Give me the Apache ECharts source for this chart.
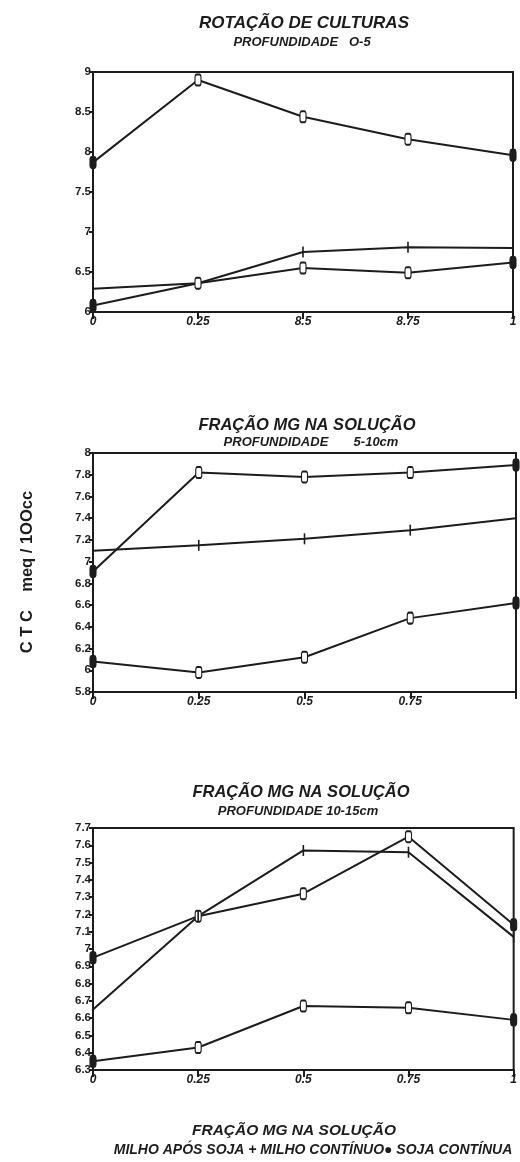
<!DOCTYPE html>
<html>
<head>
<meta charset="utf-8">
<script src="https://cdn.jsdelivr.net/npm/echarts@6/dist/echarts.min.js"></script>
<style>html,body{margin:0;padding:0;background:#fff;}#c{width:520px;height:1162px;}</style>
</head>
<body>
<div id="c"></div>
<script>
// ---- data ----
var xValues = [0, 0.25, 0.5, 0.75, 1];
var xLabels1 = ['0', '0.25', '8.5', '8.75', '1'];
var xLabels2 = ['0', '0.25', '0.5', '0.75', ''];
var xLabels3 = ['0', '0.25', '0.5', '0.75', '1'];
var yLabels1 = ['6', '6.5', '7', '7.5', '8', '8.5', '9'];
var yLabels2 = ['5.8', '6', '6.2', '6.4', '6.6', '6.8', '7', '7.2', '7.4', '7.6', '7.8', '8'];
var yLabels3 = ['6.3', '6.4', '6.5', '6.6', '6.7', '6.8', '6.9', '7', '7.1', '7.2', '7.3', '7.4', '7.5', '7.6', '7.7'];

var p1A = [7.87, 8.90, 8.44, 8.16, 7.96];
var p1B = [6.29, 6.36, 6.75, 6.81, 6.80];
var p1C = [6.08, 6.36, 6.55, 6.49, 6.62];

var p2A = [6.91, 7.82, 7.78, 7.82, 7.89];
var p2B = [7.10, 7.15, 7.21, 7.29, 7.40];
var p2C = [6.08, 5.98, 6.12, 6.48, 6.62];

var p3A = [6.95, 7.19, 7.32, 7.65, 7.14];
var p3B = [6.65, 7.19, 7.57, 7.56, 7.07];
var p3C = [6.35, 6.43, 6.67, 6.66, 6.59];

var titles = [
  ['ROTAÇÃO DE CULTURAS', 'PROFUNDIDADE   O-5'],
  ['FRAÇÃO MG NA SOLUÇÃO', 'PROFUNDIDADE       5-10cm'],
  ['FRAÇÃO MG NA SOLUÇÃO', 'PROFUNDIDADE 10-15cm']
];
var yAxisName = 'C T C    meq / 1OOcc';
var footer1 = 'FRAÇÃO MG NA SOLUÇÃO';
var footer2 = 'MILHO APÓS SOJA + MILHO CONTÍNUO● SOJA CONTÍNUA';

// ---- build ----
var INK = '#1c1c1c';
var FONT = '"Liberation Sans", Arial, sans-serif';

var grids = [
  {left: 93, top: 72, width: 420, height: 240},
  {left: 93, top: 453, width: 423, height: 239},
  {left: 93, top: 828, width: 423, height: 242}
];
var yCfg = [
  {min: 6, max: 9, interval: 0.5, labels: yLabels1},
  {min: 5.8, max: 8, interval: 0.2, labels: yLabels2},
  {min: 6.3, max: 7.7, interval: 0.1, labels: yLabels3}
];
var xLabelSets = [xLabels1, xLabels2, xLabels3];

function pairs(ys) { return xValues.map(function (x, i) { return [x, ys[i]]; }); }

function hollowSeries(ys, gi) {
  var data = pairs(ys).map(function (p, i) {
    var filled = (i === 0 || i === ys.length - 1);
    return {value: p, itemStyle: {color: filled ? INK : '#fff', borderColor: INK, borderWidth: 1.5}};
  });
  return {
    type: 'line', xAxisIndex: gi, yAxisIndex: gi, data: data,
    symbol: 'roundRect', symbolSize: [6, 11], showAllSymbol: true,
    lineStyle: {color: INK, width: 2}, itemStyle: {color: '#fff', borderColor: INK, borderWidth: 1.5},
    animation: false, z: 3
  };
}
function crossSeries(ys, gi) {
  return {
    type: 'line', xAxisIndex: gi, yAxisIndex: gi, data: pairs(ys),
    symbol: 'rect', symbolSize: [1.6, 11], showAllSymbol: true,
    lineStyle: {color: INK, width: 2}, itemStyle: {color: INK},
    animation: false, z: 3
  };
}

var series = [
  hollowSeries(p1A, 0), crossSeries(p1B, 0), hollowSeries(p1C, 0),
  hollowSeries(p2A, 1), crossSeries(p2B, 1), hollowSeries(p2C, 1),
  hollowSeries(p3A, 2), crossSeries(p3B, 2), hollowSeries(p3C, 2)
];

var xAxes = [], yAxes = [];
grids.forEach(function (g, gi) {
  g.show = true; g.borderColor = INK; g.borderWidth = 2; g.backgroundColor = 'transparent';
  xAxes.push({
    type: 'value', gridIndex: gi, min: 0, max: 1, interval: 0.25,
    axisLine: {show: true, onZero: false, lineStyle: {color: INK, width: 2}},
    axisTick: {show: true, inside: false, length: 7, lineStyle: {color: INK, width: 2}},
    splitLine: {show: false},
    axisLabel: {
      show: true, margin: 4, color: INK, fontFamily: FONT, fontWeight: 'bold', fontStyle: 'italic', fontSize: 12,
      showMinLabel: true, showMaxLabel: true,
      formatter: (function (labels) { return function (v) { return labels[Math.round(v / 0.25)]; }; })(xLabelSets[gi])
    }
  });
  var yc = yCfg[gi];
  yAxes.push({
    type: 'value', gridIndex: gi, min: yc.min, max: yc.max, interval: yc.interval,
    axisLine: {show: true, onZero: false, lineStyle: {color: INK, width: 2}},
    axisTick: {show: true, inside: false, length: 4, lineStyle: {color: INK, width: 2}},
    splitLine: {show: false},
    axisLabel: {
      show: true, margin: 2, color: INK, fontFamily: FONT, fontWeight: 'bold', fontSize: 11.5,
      showMinLabel: true, showMaxLabel: true,
      formatter: (function (c) { return function (v) { return c.labels[Math.round((v - c.min) / c.interval)]; }; })(yc)
    }
  });
});

var titleY = [[23, 42], [425, 442], [792, 811]];
var titleX = [304, 307, 301];
var subX = [302, 311, 298];
var titleSize = [17, 16.5, 16.5];
var graphics = [];
titles.forEach(function (t, i) {
  graphics.push({type: 'text', x: titleX[i], y: titleY[i][0], style: {
    text: t[0], x: 0, y: 0, align: 'center', verticalAlign: 'middle', fill: INK, fontFamily: FONT, fontWeight: 'bold', fontStyle: 'italic', fontSize: titleSize[i]
  }});
  graphics.push({type: 'text', x: subX[i], y: titleY[i][1], style: {
    text: t[1], x: 0, y: 0, align: 'center', verticalAlign: 'middle', fill: INK, fontFamily: FONT, fontWeight: 'bold', fontStyle: 'italic', fontSize: 13
  }});
});
graphics.push({type: 'text', x: 27, y: 572, rotation: Math.PI / 2, style: {
  text: yAxisName, x: 0, y: 0, align: 'center', verticalAlign: 'middle', fill: INK, fontFamily: FONT, fontWeight: 'bold', fontSize: 16.5
}});
graphics.push({type: 'text', x: 294, y: 1131, style: {
  text: footer1, x: 0, y: 0, align: 'center', verticalAlign: 'middle', fill: INK, fontFamily: FONT, fontWeight: 'bold', fontStyle: 'italic', fontSize: 15.5
}});
graphics.push({type: 'text', x: 313, y: 1150, style: {
  text: footer2, x: 0, y: 0, align: 'center', verticalAlign: 'middle', fill: INK, fontFamily: FONT, fontWeight: 'bold', fontStyle: 'italic', fontSize: 14
}});

var chart = echarts.init(document.getElementById('c'), null, {renderer: 'canvas'});
chart.setOption({
  backgroundColor: '#ffffff',
  animation: false,
  grid: grids,
  xAxis: xAxes,
  yAxis: yAxes,
  series: series,
  graphic: graphics
});
</script>
</body>
</html>
